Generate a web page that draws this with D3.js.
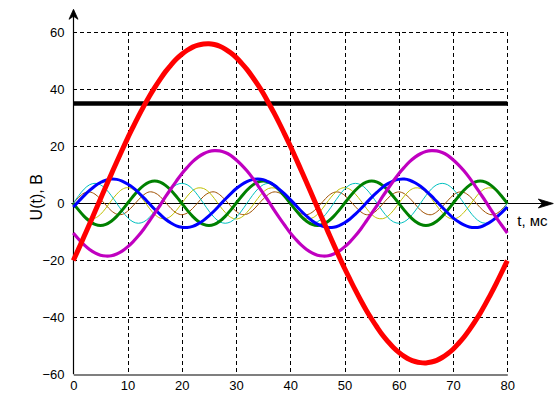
<!DOCTYPE html>
<html>
<head>
<meta charset="utf-8">
<script src="https://cdn.jsdelivr.net/npm/d3@7"></script>
<style>
  html, body { margin: 0; padding: 0; background: #fff; }
  svg { display: block; }
  .tick text { font-family: "Liberation Sans Narrow", "Arial Narrow", "Liberation Sans", Arial, sans-serif; font-size: 13px; fill: #000; }
  .title { font-family: "Liberation Sans", Arial, sans-serif; fill: #000; }
</style>
</head>
<body>
<svg id="chart" width="560" height="420"></svg>
<script>
// ---- data, t in ms, U in volts ----
const tValues = [0,1,2,3,4,5,6,7,8,9,10,11,12,13,14,15,16,17,18,19,20,21,22,23,24,25,26,27,28,29,30,31,32,33,34,35,36,37,38,39,40,41,42,43,44,45,46,47,48,49,50,51,52,53,54,55,56,57,58,59,60,61,62,63,64,65,66,67,68,69,70,71,72,73,74,75,76,77,78,79,80];

const redValues = [-20.1,-15.9,-11.6,-7.3,-2.9,1.5,5.9,10.2,14.5,18.7,22.8,26.7,30.5,34.1,37.5,40.6,43.5,46.2,48.5,50.6,52.3,53.7,54.8,55.5,55.9,56.0,55.7,55.1,54.1,52.8,51.2,49.2,47.0,44.4,41.6,38.6,35.2,31.7,28.0,24.1,20.1,15.9,11.6,7.3,2.9,-1.5,-5.9,-10.2,-14.5,-18.7,-22.8,-26.7,-30.5,-34.1,-37.5,-40.6,-43.5,-46.2,-48.5,-50.6,-52.3,-53.7,-54.8,-55.5,-55.9,-56.0,-55.7,-55.1,-54.1,-52.8,-51.2,-49.2,-47.0,-44.4,-41.6,-38.6,-35.2,-31.7,-28.0,-24.1,-20.1];

const magentaValues = [-10.4,-12.6,-14.6,-16.2,-17.4,-18.2,-18.5,-18.4,-17.8,-16.8,-15.3,-13.5,-11.4,-9.0,-6.3,-3.5,-0.7,2.3,5.1,7.8,10.4,12.6,14.6,16.2,17.4,18.2,18.5,18.4,17.8,16.8,15.3,13.5,11.4,9.0,6.3,3.5,0.7,-2.3,-5.1,-7.8,-10.4,-12.6,-14.6,-16.2,-17.4,-18.2,-18.5,-18.4,-17.8,-16.8,-15.3,-13.5,-11.4,-9.0,-6.3,-3.5,-0.7,2.3,5.1,7.8,10.4,12.6,14.6,16.2,17.4,18.2,18.5,18.4,17.8,16.8,15.3,13.5,11.4,9.0,6.3,3.5,0.7,-2.3,-5.1,-7.8,-10.4];

const blueValues = [-1.3,0.7,2.7,4.5,6.1,7.3,8.1,8.5,8.4,7.8,6.8,5.5,3.8,1.9,-0.1,-2.1,-3.9,-5.6,-6.9,-7.9,-8.4,-8.5,-8.1,-7.2,-6.0,-4.4,-2.6,-0.6,1.4,3.3,5.1,6.5,7.6,8.3,8.5,8.3,7.5,6.4,4.9,3.2,1.3,-0.7,-2.7,-4.5,-6.1,-7.3,-8.1,-8.5,-8.4,-7.8,-6.8,-5.5,-3.8,-1.9,0.1,2.1,3.9,5.6,6.9,7.9,8.4,8.5,8.1,7.2,6.0,4.4,2.6,0.6,-1.4,-3.3,-5.1,-6.5,-7.6,-8.3,-8.5,-8.3,-7.5,-6.4,-4.9,-3.2,-1.3];

const greenValues = [0,-2.4,-4.6,-6.3,-7.4,-7.8,-7.4,-6.3,-4.6,-2.4,0,2.4,4.6,6.3,7.4,7.8,7.4,6.3,4.6,2.4,0,-2.4,-4.6,-6.3,-7.4,-7.8,-7.4,-6.3,-4.6,-2.4,0,2.4,4.6,6.3,7.4,7.8,7.4,6.3,4.6,2.4,0,-2.4,-4.6,-6.3,-7.4,-7.8,-7.4,-6.3,-4.6,-2.4,0,2.4,4.6,6.3,7.4,7.8,7.4,6.3,4.6,2.4,0,-2.4,-4.6,-6.3,-7.4,-7.8,-7.4,-6.3,-4.6,-2.4,0,2.4,4.6,6.3,7.4,7.8,7.4,6.3,4.6,2.4,0];

const cyanValues = [0,2.7,5,6.5,7,6.5,5,2.7,0,-2.7,-5,-6.5,-7,-6.5,-5,-2.7,0,2.7,5,6.5,7,6.5,5,2.7,0,-2.7,-5,-6.5,-7,-6.5,-5,-2.7,0,2.7,5,6.5,7,6.5,5,2.7,0,-2.7,-5,-6.5,-7,-6.5,-5,-2.7,0,2.7,5,6.5,7,6.5,5,2.7,0,-2.7,-5,-6.5,-7,-6.5,-5,-2.7,0,2.7,5,6.5,7,6.5,5,2.7,0,-2.7,-5,-6.5,-7,-6.5,-5,-2.7,0];

const yellowValues = [0,-2.5,-4.5,-5.4,-5.2,-3.9,-1.7,0.9,3.2,4.9,5.5,4.9,3.2,0.9,-1.7,-3.9,-5.2,-5.4,-4.5,-2.5,0,2.5,4.5,5.4,5.2,3.9,1.7,-0.9,-3.2,-4.9,-5.5,-4.9,-3.2,-0.9,1.7,3.9,5.2,5.4,4.5,2.5,0,-2.5,-4.5,-5.4,-5.2,-3.9,-1.7,0.9,3.2,4.9,5.5,4.9,3.2,0.9,-1.7,-3.9,-5.2,-5.4,-4.5,-2.5,0,2.5,4.5,5.4,5.2,3.9,1.7,-0.9,-3.2,-4.9,-5.5,-4.9,-3.2,-0.9,1.7,3.9,5.2,5.4,4.5,2.5,0];

const brownValues = [0,2.1,3.6,4,3.2,1.5,-0.6,-2.6,-3.8,-3.9,-2.8,-0.9,1.2,3,4,3.7,2.4,0.3,-1.8,-3.4,-4,-3.4,-1.8,0.3,2.4,3.7,4,3,1.2,-0.9,-2.8,-3.9,-3.8,-2.6,-0.6,1.5,3.2,4,3.6,2.1,0,-2.1,-3.6,-4,-3.2,-1.5,0.6,2.6,3.8,3.9,2.8,0.9,-1.2,-3,-4,-3.7,-2.4,-0.3,1.8,3.4,4,3.4,1.8,-0.3,-2.4,-3.7,-4,-3,-1.2,0.9,2.8,3.9,3.8,2.6,0.6,-1.5,-3.2,-4,-3.6,-2.1,0];

const levelT = [0, 80];
const levelValues = [35, 35];

const xTicks = [0,10,20,30,40,50,60,70,80];
const yTicks = [-60,-40,-20,0,20,40,60];
const xLabel = "t, мс";
const yLabel = "U(t), B";

// ---- layout ----
const svg = d3.select("#chart");
const x = d3.scaleLinear().domain([0, 80]).range([73.3, 507.3]);
const y = d3.scaleLinear().domain([-60, 60]).range([374.3, 32.3]);

// grid
const grid = svg.append("g").attr("stroke", "#000").attr("stroke-width", 1)
  .attr("stroke-dasharray", "4,3").attr("shape-rendering", "crispEdges");
grid.selectAll("line.v").data(xTicks.filter(d => d > 0)).join("line")
  .attr("x1", d => Math.round(x(d)) + 0.5).attr("x2", d => Math.round(x(d)) + 0.5)
  .attr("y1", y(60)).attr("y2", y(-60));
grid.selectAll("line.h").data(yTicks.filter(d => d !== 0 && d !== -60)).join("line")
  .attr("class", "h")
  .attr("y1", d => Math.round(y(d)) + 0.5).attr("y2", d => Math.round(y(d)) + 0.5)
  .attr("x1", x(0)).attr("x2", x(80));

// axes (labels)
const xAxis = d3.axisBottom(x).tickValues(xTicks).tickFormat(d3.format("d")).tickSize(0).tickPadding(6);
const gx = svg.append("g").attr("transform", `translate(0,${Math.round(y(-60)) + 0.5})`).call(xAxis);
gx.select(".domain").attr("stroke", "#000").attr("stroke-width", 1.2);

const yAxis = d3.axisLeft(y).tickValues(yTicks).tickFormat(d3.format("d")).tickSize(0).tickPadding(9);
const gy = svg.append("g").attr("transform", `translate(${Math.round(x(0)) + 0.5},0)`).call(yAxis);
gy.select(".domain").remove();

// left axis line with arrow
const ax0 = Math.round(x(0)) + 0.5;
svg.append("line").attr("x1", ax0).attr("x2", ax0)
  .attr("y1", y(-60)).attr("y2", y(60) - 20)
  .attr("stroke", "#000").attr("stroke-width", 1.2);
const yTip = y(60) - 23;
svg.append("path")
  .attr("d", `M${ax0},${yTip} L${ax0 - 4.5},${yTip + 10} L${ax0},${yTip + 7} L${ax0 + 4.5},${yTip + 10} Z`)
  .attr("fill", "#000").attr("stroke", "#000").attr("stroke-width", 0.8);

// zero line with arrow
const ay0 = Math.round(y(0)) + 0.5;
const xTip = x(80) + 46;
svg.append("line").attr("x1", x(0) - 2).attr("x2", xTip - 3)
  .attr("y1", ay0).attr("y2", ay0)
  .attr("stroke", "#000").attr("stroke-width", 1.2);
svg.append("path")
  .attr("d", `M${xTip},${ay0} L${xTip - 15},${ay0 - 4.5} L${xTip - 11},${ay0} L${xTip - 15},${ay0 + 4.5} Z`)
  .attr("fill", "#000").attr("stroke", "#000").attr("stroke-width", 0.8);

// titles
svg.append("text").attr("class", "title")
  .attr("x", x(80) + 10).attr("y", y(0) + 23)
  .attr("font-size", 15).text(xLabel);
svg.append("text").attr("class", "title")
  .attr("transform", `translate(42,${y(0) - 6}) rotate(-90)`)
  .attr("text-anchor", "middle").attr("font-size", 16).text(yLabel);

// series
const line = d3.line().x((d, i) => x(tValues[i])).y(d => y(d)).curve(d3.curveCatmullRom.alpha(0.5));
const series = [
  { values: brownValues, color: "#a05000", width: 1 },
  { values: yellowValues, color: "#c0c000", width: 1 },
  { values: cyanValues, color: "#00c0c0", width: 1 },
  { values: greenValues, color: "#008000", width: 3 },
  { values: blueValues, color: "#0000ff", width: 3 },
  { values: magentaValues, color: "#c000c0", width: 3.2 }
];
const gs = svg.append("g").attr("fill", "none").attr("stroke-linejoin", "round");
gs.selectAll("path").data(series).join("path")
  .attr("d", d => line(d.values))
  .attr("stroke", d => d.color)
  .attr("stroke-width", d => d.width);

// level line
svg.append("path")
  .attr("d", d3.line().x((d, i) => x(levelT[i])).y(d => y(d))(levelValues))
  .attr("stroke", "#000").attr("stroke-width", 4.5).attr("fill", "none");

// red fundamental
svg.append("path")
  .attr("d", line(redValues))
  .attr("stroke", "#ff0000").attr("stroke-width", 5).attr("fill", "none")
  .attr("stroke-linejoin", "round");
</script>
</body>
</html>
